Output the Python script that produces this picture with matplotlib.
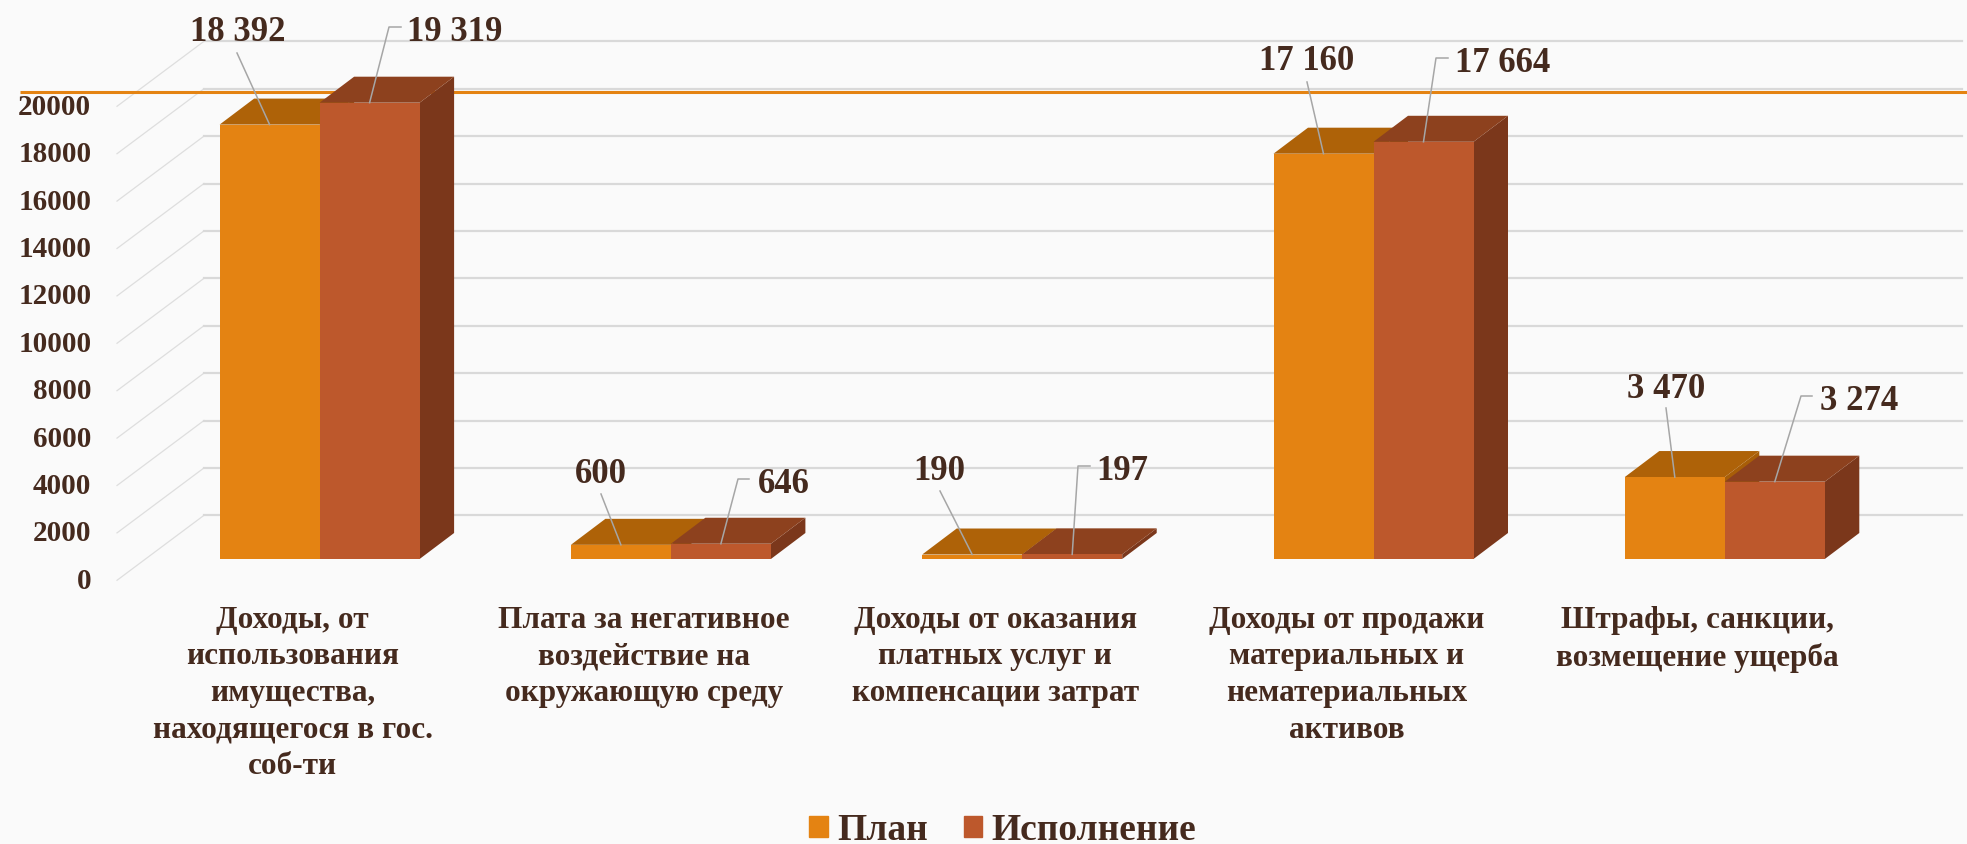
import matplotlib
matplotlib.use('Agg')
import matplotlib.pyplot as plt
from matplotlib.patches import Polygon, Patch
from matplotlib.transforms import ScaledTranslation

plt.rcParams['font.family'] = ['Liberation Serif', 'DejaVu Serif']
plt.rcParams['font.weight'] = 'bold'

# данные
categories = [
    'Доходы, от\nиспользования\nимущества,\nнаходящегося в гос.\nсоб-ти',
    'Плата за негативное\nвоздействие на\nокружающую среду',
    'Доходы от оказания\nплатных услуг и\nкомпенсации затрат',
    'Доходы от продажи\nматериальных и\nнематериальных\nактивов',
    'Штрафы, санкции,\nвозмещение ущерба',
]
plan = [18392, 600, 190, 17160, 3470]
fact = [19319, 646, 197, 17664, 3274]
plan_labels = ['18 392', '600', '190', '17 160', '3 470']
fact_labels = ['19 319', '646', '197', '17 664', '3 274']
y_ticks = list(range(0, 20001, 2000))

TEXT = '#452A1E'
GRID = '#D9D9D9'
BG = '#FAFAFA'
PLAN_FRONT, PLAN_TOP, PLAN_SIDE = '#E48312', '#AE6208', '#A85E08'
FACT_FRONT, FACT_TOP, FACT_SIDE = '#BD582C', '#8D411E', '#7B371B'

W, H = 1967, 845
# размеры оси в пикселях картинки
AX_L, AX_R, AX_T, AX_B = 117, 1962, 107.3, 581.3
X0_PX, PITCH_PX = 319.6, 351.3  # центр первой группы и шаг групп

fig = plt.figure(figsize=(W / 100, H / 100), dpi=100, facecolor=BG)
ax = fig.add_axes([AX_L / W, 1 - AX_B / H, (AX_R - AX_L) / W, (AX_B - AX_T) / H])
ax.set_facecolor('none')
ax.set_xlim((AX_L - X0_PX) / PITCH_PX, (AX_R - X0_PX) / PITCH_PX)
ax.set_ylim(0, 20000)
for s in ax.spines.values():
    s.set_visible(False)

px_per_unit = (AX_B - AX_T) / 20000


def dx(p):
    return p / PITCH_PX


def dy(p):
    return p / px_per_unit


def pt(x_px, y_px):
    # пиксели картинки -> координаты данных
    return (x_px - X0_PX) / PITCH_PX, (AX_B - y_px) / px_per_unit


# сетка: пол/стена и задняя стенка
wall_dx, wall_dy = dx(87), dy(65)
x_front = ax.get_xlim()[0]
x_end = ax.get_xlim()[1]
for v in y_ticks:
    ax.plot([x_front, x_front + wall_dx], [v, v + wall_dy], color='#DEDEDE', lw=0.9, clip_on=False, zorder=1)
    ax.plot([x_front + wall_dx, x_end], [v + wall_dy, v + wall_dy], color=GRID, lw=1.6, clip_on=False, zorder=1)

# оранжевая линия
xa, ya = pt(20, 93.3)
xb, _ = pt(W, 93.3)
ax.plot([xa, xb], [ya, ya], color=PLAN_FRONT, lw=2.2, clip_on=False, zorder=2, solid_capstyle='butt')

# объёмные столбцы
bar_w = dx(100)
base = dy(AX_B - 560)
bar_k = 0.9966  # передняя плоскость чуть мельче стенки
depth_x, depth_y = dx(34.5), dy(26)


def draw_bar(i, value, left, front, top, side, z_top):
    h = value * bar_k
    y1 = base + h
    ax.bar(left, h, bar_w, bottom=base, align='edge', color=front, zorder=6, clip_on=False)
    ax.add_patch(Polygon([(left, y1), (left + bar_w, y1), (left + bar_w + depth_x, y1 + depth_y),
                          (left + depth_x, y1 + depth_y)], closed=True, fc=top, ec='none',
                         zorder=z_top, clip_on=False))
    ax.add_patch(Polygon([(left + bar_w, base), (left + bar_w + depth_x, base + depth_y),
                          (left + bar_w + depth_x, y1 + depth_y), (left + bar_w, y1)], closed=True,
                         fc=side, ec='none', zorder=3, clip_on=False))


for i in range(len(categories)):
    plan_higher = plan[i] > fact[i]
    draw_bar(i, plan[i], i - bar_w, PLAN_FRONT, PLAN_TOP, PLAN_SIDE, 5 if plan_higher else 4)
    draw_bar(i, fact[i], i, FACT_FRONT, FACT_TOP, FACT_SIDE, 4 if plan_higher else 5)

# подписи значений и выноски (пиксели картинки)
plan_text_xy = [(237.5, 28), (601, 470), (939, 467), (1307, 57), (1666, 385)]
plan_line_start = [(237, 54), (601, 495), (940, 492), (1307, 83), (1666, 409)]
fact_text_xy = [(454.5, 28), (784, 480), (1122, 467), (1503, 59), (1859, 397)]
fact_elbow = [(401, 389), (749, 738), (1090, 1078), (1448, 1436), (1812, 1801)]

leader = '#A6A6A6'
label_shift = 4.5  # va='center' ставит цифры выше середины
for i in range(len(categories)):
    top_plan = base + plan[i] * bar_k
    top_fact = base + fact[i] * bar_k

    x0, y0 = pt(plan_text_xy[i][0], plan_text_xy[i][1] + label_shift)
    ax.text(x0, y0, plan_labels[i], ha='center', va='center', fontsize=25, color=TEXT, zorder=9)
    sx, sy = pt(*plan_line_start[i])
    ax.plot([sx, i - bar_w / 2], [sy, top_plan], color=leader, lw=1.1, clip_on=False, zorder=8)

    x1, y1 = pt(fact_text_xy[i][0], fact_text_xy[i][1] + label_shift)
    ax.text(x1, y1, fact_labels[i], ha='center', va='center', fontsize=25, color=TEXT, zorder=9)
    _, ey = pt(0, fact_text_xy[i][1])
    ex0, _ = pt(fact_elbow[i][0], 0)
    ex1, _ = pt(fact_elbow[i][1], 0)
    ax.plot([ex0, ex1, i + bar_w / 2], [ey, ey, top_fact], color=leader, lw=1.1, clip_on=False, zorder=8)

# оси
ax.set_yticks(y_ticks)
ax.set_yticklabels([str(v) for v in y_ticks], fontsize=21, color=TEXT)
ax.tick_params(axis='y', length=0, pad=18.5)
for lab in ax.get_yticklabels():
    lab.set_transform(lab.get_transform() + ScaledTranslation(0, 3 / 100, fig.dpi_scale_trans))

ax.set_xticks([i - dx(27) for i in range(len(categories))])
ax.set_xticklabels(categories, fontsize=22.5, color=TEXT, linespacing=1.35)
ax.tick_params(axis='x', length=0, pad=17.5)

# легенда
handles = [Patch(color=PLAN_FRONT, label='План'), Patch(color=FACT_FRONT, label='Исполнение')]
fig.legend(handles=handles, loc='center', bbox_to_anchor=(1002.5 / W, 1 - 831 / H), ncol=2, frameon=False,
           fontsize=27, labelcolor=TEXT, handlelength=0.5, handleheight=0.5, handletextpad=0.24,
           columnspacing=0.96, borderpad=0, borderaxespad=0)

fig.savefig('out.png', dpi=100, facecolor=BG)
